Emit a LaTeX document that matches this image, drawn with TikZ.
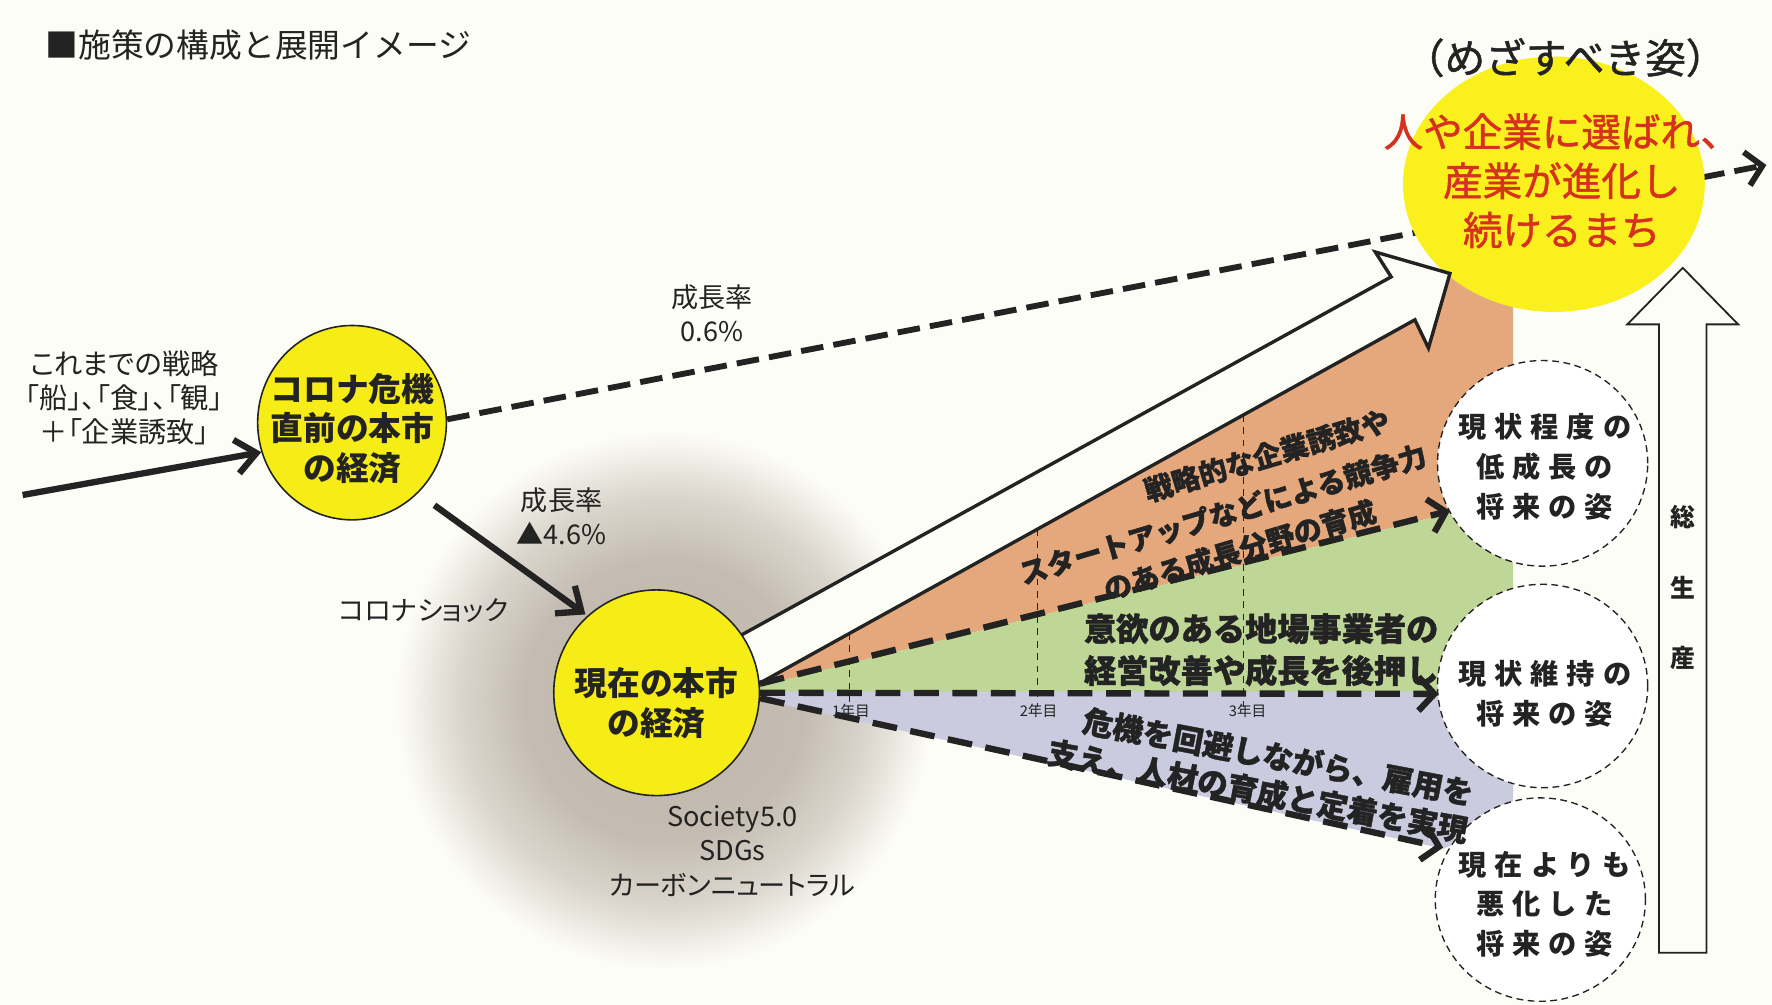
\documentclass[tikz,border=0pt]{standalone}
\usepackage{fontspec}
\setmainfont{Noto Sans CJK JP}
\newfontfamily\jpp[RawFeature=+palt]{Noto Sans CJK JP}
\newfontfamily\jpm[FakeBold=1.2]{Noto Sans CJK JP}
\newfontfamily\jph[BoldFeatures={FakeBold=1.2}]{Noto Sans CJK JP}
\newfontfamily\jpls[LetterSpace=28]{Noto Sans CJK JP}
\usetikzlibrary{arrows.meta,shapes.geometric}
\definecolor{bgc}{RGB}{253,253,247}
\definecolor{inkc}{RGB}{35,35,35}
\definecolor{yelc}{RGB}{246,236,22}
\definecolor{topyelc}{RGB}{250,240,30}
\definecolor{orgc}{RGB}{228,168,124}
\definecolor{grnc}{RGB}{190,214,150}
\definecolor{lavc}{RGB}{202,203,222}
\definecolor{redc}{RGB}{214,48,30}
\definecolor{blobc}{RGB}{190,181,170}
\pgfdeclareradialshading{blobshade}{\pgfpoint{0bp}{0bp}}{color(0bp)=(blobc); color(13bp)=(blobc!90!bgc); color(19bp)=(blobc!55!bgc); color(25bp)=(bgc); color(50bp)=(bgc)}
\tikzset{
  solidarr/.style={draw=inkc, line width=2.8pt, -{Straight Barb[length=9pt,width=15pt]}},
  fanarr/.style={draw=inkc, line width=2.8pt, dash pattern=on 11pt off 6pt, -{Straight Barb[length=7pt,width=15pt]}},
  topdash/.style={draw=inkc, line width=2.6pt, dash pattern=on 10pt off 4.5pt, -{Straight Barb[length=7pt,width=15pt]}},
  yeardash/.style={draw=inkc, line width=0.5pt, dash pattern=on 3pt off 2.5pt},
  ycirc/.style={ellipse, draw=inkc, line width=0.7pt, fill=yelc, inner sep=0pt},
  dcirc/.style={ellipse, draw=inkc, line width=0.6pt, dash pattern=on 3pt off 2pt, fill=white, inner sep=0pt},
  lbl/.style={text=inkc, align=center, inner sep=0pt},
  band/.style={lbl, font=\jph\bfseries\fontsize{12.5pt}{15pt}\selectfont},
  lavtxt/.style={lbl, font=\jph\bfseries\fontsize{13.5pt}{16pt}\selectfont},
  futtxt/.style={lbl, font=\jpls\bfseries\fontsize{12.5pt}{17.5pt}\selectfont},
  smalltxt/.style={lbl, font=\jpp\fontsize{12pt}{15.25pt}\selectfont},
}
\begin{document}
\begin{tikzpicture}[x=0.5pt,y=-0.5pt]
\fill[bgc] (0,0) rectangle (1568,889);
\useasboundingbox (0,0) rectangle (1568,889);
% shadow blob
\shade[shading=blobshade] (588,620) circle[radius=238];
% colour bands
\fill[orgc] (640,622.4) -- (1252,283) -- (1264,308) -- (1283,242) -- (1310,215) -- (1339,215) -- (1339,454) -- (1283,454) -- (640,615) -- cycle;
\fill[grnc] (640,615) -- (1283,454) -- (1339,454) -- (1339,615) -- (640,615) -- cycle;
\fill[lavc] (640,612) -- (1339,612) -- (1339,726) -- (1277,751) -- cycle;
% year lines
\draw[yeardash] (752,560) -- (752,626);
\draw[yeardash] (918,468) -- (918,626);
\draw[yeardash] (1100,367) -- (1100,626);
\node[lbl, font=\fontsize{6.5pt}{7pt}\selectfont] (y1) at (753,629) {1年目};
\node[lbl, font=\fontsize{6.5pt}{7pt}\selectfont] (y2) at (919,629) {2年目};
\node[lbl, font=\fontsize{6.5pt}{7pt}\selectfont] (y3) at (1104,629) {3年目};
% first circle and its connectors
\node[ycirc, minimum width=83.5pt, minimum height=86pt] (c1) at (311.5,374) {};
\coordinate (e0) at (20,438);
\draw[solidarr] (e0) -- (c1.198);
\coordinate (g) at (1563,146);
\draw[topdash] (c1.2) -- (g);
% goal circle
\node[ellipse, fill=topyelc, minimum width=133.5pt, minimum height=113pt, inner sep=0pt] (goal) at (1375,163) {};
% white arrow
\draw[inkc, line width=1.5pt, fill=bgc, line join=miter] (625,579) -- (1231,245) -- (1217,223) -- (1283,242) -- (1264,308) -- (1252,283) -- (640,622.4) -- cycle;
% other circles
\node[ycirc, minimum width=91pt, minimum height=91pt] (c2) at (581,613) {};
\node[dcirc, minimum width=93pt, minimum height=91pt] (s1) at (1365,410) {};
\node[dcirc, minimum width=93pt, minimum height=90pt] (s2) at (1365,607) {};
\node[dcirc, minimum width=93pt, minimum height=90pt] (s3) at (1363,796) {};
% arrows
\draw[solidarr, shorten <=9pt, shorten >=1pt] (c1.-47) -- (c2.132);
\coordinate (f1) at (1283,452);
\coordinate (f2) at (1273,614);
\coordinate (f3) at (1277,750);
\draw[fanarr] (c2.5) -- (f1);
\draw[fanarr] (c2.0) -- (f2);
\draw[fanarr] (c2.-3) -- (f3);
% total production arrow
\draw[inkc, line width=0.8pt, fill=bgc, line join=miter] (1468,843) -- (1468,287) -- (1440,287) -- (1489,237) -- (1538,287) -- (1510,287) -- (1510,843) -- cycle;
\node[lbl, font=\bfseries\fontsize{11pt}{31.25pt}\selectfont] (tot) at (1489,520) {総\\生\\産};
% texts
\node[lbl, anchor=west, font=\fontsize{14.5pt}{17pt}\selectfont] (title) at (40,40) {■施策の構成と展開イメージ};
\node[lbl, font=\jpm\fontsize{18pt}{20pt}\selectfont] (goalh) at (1385,51) {（めざすべき姿）};
\node[lbl, text=redc, font=\jpm\fontsize{17.5pt}{21.75pt}\selectfont] (goalt) at (1382,160) {人や企業に選ばれ、\\産業が進化し\\続けるまち};
\node[lbl, font=\bfseries\fontsize{14.5pt}{17.5pt}\selectfont] (c1t) at (312,379) {コロナ危機\\直前の本市\\の経済};
\node[lbl, font=\bfseries\fontsize{14.5pt}{17.5pt}\selectfont] (c2t) at (581,622) {現在の本市\\の経済};
\node[lbl, font=\jpp\fontsize{12.5pt}{15.25pt}\selectfont] (prev) at (110,352) {これまでの戦略\\「船」、「食」、「観」\\＋「企業誘致」};
\node[smalltxt] (r1) at (630,277) {成長率\\0.6\%};
\node[smalltxt] (r2) at (497,457) {成長率\\▲4.6\%};
\node[smalltxt] (shock) at (375,540) {コロナショック};
\node[smalltxt] (soc) at (648,753) {Society5.0\\SDGs\\カーボンニュートラル};
\node[band, rotate=16.5] (o1) at (1121,403) {戦略的な企業誘致や};
\node[band, rotate=16.5] (o2) at (1082,455) {スタートアップなどによる競争力};
\node[band, rotate=16.5] (o3) at (1097,487) {のある成長分野の育成};
\node[lbl, font=\jph\bfseries\fontsize{14.25pt}{18.5pt}\selectfont] (gt) at (1116,575) {意欲のある地場事業者の\\経営改善や成長を後押し};
\node[lavtxt, rotate=-10.7] (v1) at (1131,669.5) {危機を回避しながら、雇用を};
\node[lavtxt, rotate=-10.7] (v2) at (1113,700) {支え、人材の育成と定着を実現};
\node[futtxt] (s1t) at (1367,413) {現状程度の\\低成長の\\将来の姿};
\node[futtxt] (s2t) at (1367,614) {現状維持の\\将来の姿};
\node[futtxt] (s3t) at (1367,800) {現在よりも\\悪化した\\将来の姿};
\end{tikzpicture}
\end{document}
